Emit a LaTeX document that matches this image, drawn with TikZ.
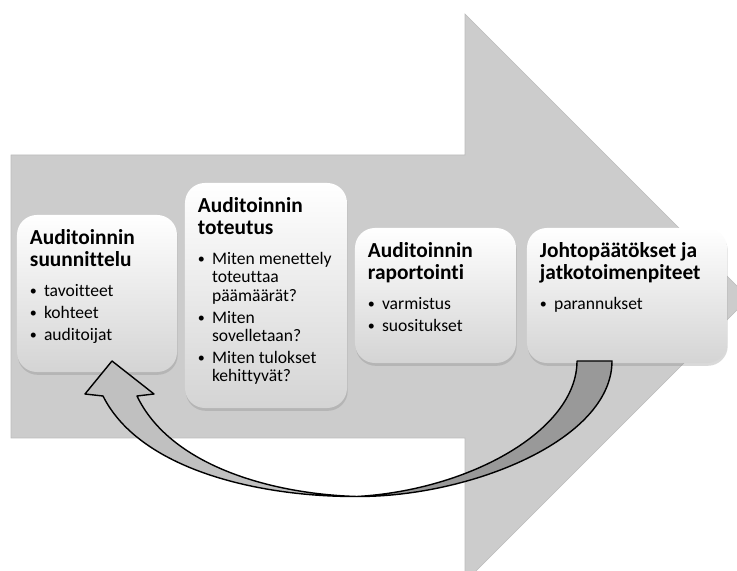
\documentclass[tikz,border=0pt]{standalone}
\usepackage{fontspec}
\setmainfont{Carlito}[Ligatures=NoCommon]
\usetikzlibrary{shadows}
\definecolor{arrowgray}{RGB}{204,204,204}
\definecolor{arrowedge}{RGB}{188,188,188}
\definecolor{boxgray}{RGB}{212,212,212}
\definecolor{backlight}{RGB}{192,192,192}
\definecolor{backdark}{RGB}{153,153,153}

\newcommand{\stagebody}[3]{\parbox[c][\dimexpr#2-0.5cm\relax][t]{\dimexpr#1-0.65cm\relax}{#3}}
\newcommand{\stagetitle}[1]{{\fontsize{15.2}{15.6}\selectfont\bfseries\noindent\rule{0pt}{14pt}#1\par}\vspace{5.7pt}}
\newcommand{\stagedot}{\raisebox{0.6pt}{\fontsize{10}{10}\selectfont\textbullet}}
\newcommand{\stageitem}[1]{\par\vspace{2.6pt}\hangindent=10pt\noindent\makebox[10pt][l]{\stagedot}#1\par}

\tikzset{
  stagebox/.style={rounded corners=0.5cm, top color=white, bottom color=boxgray,
    drop shadow={shadow xshift=0.5pt, shadow yshift=-2pt, opacity=0.3},
    inner xsep=0.325cm, inner ysep=0.25cm, font=\fontsize{12.5}{13}\selectfont},
  backband/.style={draw=black, line width=1pt, line join=round}
}

\begin{document}
\begin{tikzpicture}[x=0.025cm, y=0.025cm]
\useasboundingbox (0,0) rectangle (737,571);
\clip (0,0) rectangle (737,571);

% Big process arrow
\filldraw[fill=arrowgray, draw=arrowedge, line width=0.4pt]
  (11,416) -- (465,416) -- (465,557) -- (749,273) -- (465,-11) -- (465,133) -- (11,133) -- cycle;

% Stages
\node[stagebox] (planning) at (97,277.5) {\stagebody{4cm}{3.925cm}{\stagetitle{Auditoinnin\\suunnittelu}%
  \stageitem{tavoitteet}\stageitem{kohteet}\stageitem{auditoijat}}};
\node[stagebox] (execution) at (266,275.5) {\stagebody{4.05cm}{5.625cm}{\stagetitle{Auditoinnin\\toteutus}%
  \stageitem{Miten menettely\\toteuttaa\\päämäärät?}\stageitem{Miten\\sovelletaan?}\stageitem{Miten tulokset\\kehittyvät?}}};
\node[stagebox] (reporting) at (435.5,275.5) {\stagebody{4.025cm}{3.375cm}{\stagetitle{Auditoinnin\\raportointi}%
  \stageitem{varmistus}\stageitem{suositukset}}};
\node[stagebox] (followup) at (627,275.5) {\stagebody{5cm}{3.375cm}{\stagetitle{Johtopäätökset ja\\jatkotoimenpiteet}%
  \stageitem{parannukset}}};

% Curved feedback arrow
\coordinate (bottomtwist) at (357,74.5);
\filldraw[backband, fill=backlight] (bottomtwist) .. controls (260,74) and (140,101) .. (103,175)
  -- (85,177) -- (112,210) -- (154,177) -- (137,175)
  .. controls (170,106) and (270,77) .. (bottomtwist) -- cycle;
\filldraw[backband, fill=backdark] (577,210) -- (612,210)
  .. controls (612,131) and (470,74) .. (bottomtwist)
  .. controls (470,81) and (577,141) .. (577,210) -- cycle;
\end{tikzpicture}
\end{document}
